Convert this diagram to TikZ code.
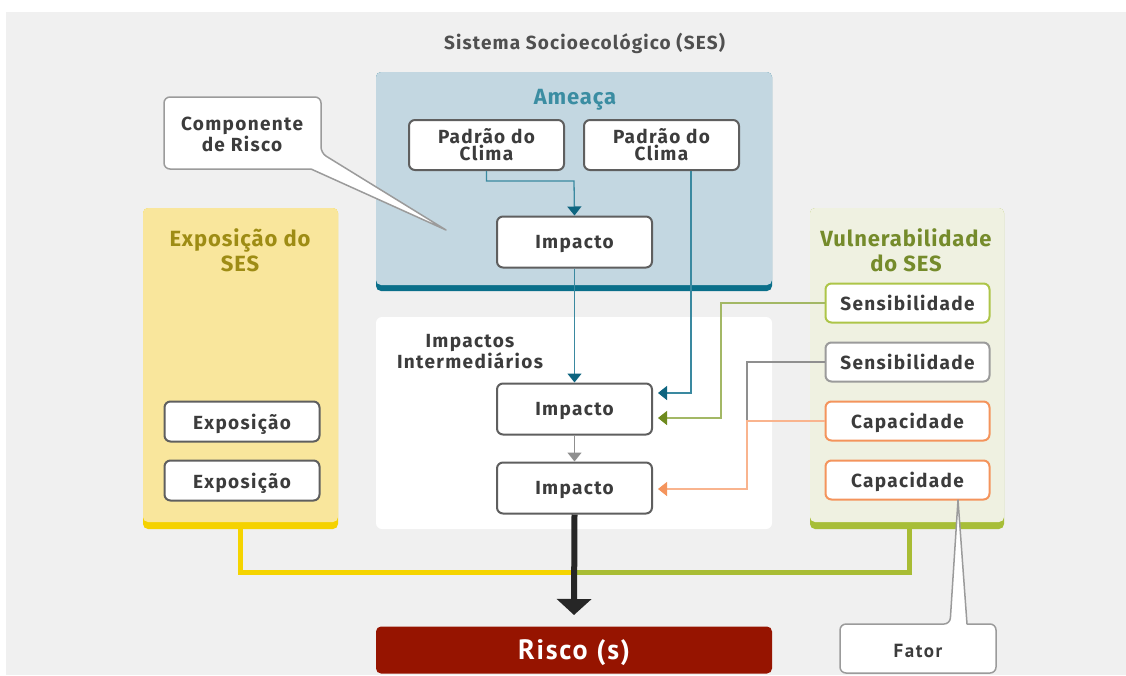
\documentclass[tikz,border=0pt]{standalone}
\usepackage{fontspec}
\setmainfont{Fira Sans}
\newfontfamily\narrowfont{PT Sans}
\usetikzlibrary{arrows.meta}

\definecolor{bgray}{HTML}{F0F0F0}
\definecolor{txt}{HTML}{3C3C3C}
\definecolor{boxline}{HTML}{5F5F5F}
\definecolor{threatfill}{HTML}{C3D7E1}
\definecolor{threatbar}{HTML}{0A6F8A}
\definecolor{threattitle}{HTML}{3B8DA2}
\definecolor{tealline}{HTML}{3A89A0}
\definecolor{tealhead}{HTML}{0E6580}
\definecolor{expfill}{HTML}{F9E69C}
\definecolor{expbar}{HTML}{F5D200}
\definecolor{exptitle}{HTML}{9E8C14}
\definecolor{vulfill}{HTML}{EFF1E1}
\definecolor{vulbar}{HTML}{A7BE38}
\definecolor{vultitle}{HTML}{758B2B}
\definecolor{sensgreen}{HTML}{ADC548}
\definecolor{greenline}{HTML}{A3B865}
\definecolor{greenhead}{HTML}{6E8A1E}
\definecolor{sensgray}{HTML}{9B9B9B}
\definecolor{grayline}{HTML}{8F8F8F}
\definecolor{capor}{HTML}{F4945C}
\definecolor{orline}{HTML}{F9B48E}
\definecolor{riskred}{HTML}{961400}
\definecolor{darkarrow}{HTML}{262626}
\definecolor{ylwline}{HTML}{F5D400}
\definecolor{grnline}{HTML}{A8BC34}

\tikzset{
  x=1pt, y=-1pt,
  boxfont/.style={font=\fontsize{19}{17}\selectfont\bfseries\addfontfeature{LetterSpace=7}},
  boxtext/.style={boxfont, text=txt},
  rbox/.style={draw=#1, line width=2pt, fill=white, rounded corners=6pt,
    minimum width=155pt, minimum height=50pt, inner sep=0pt, boxtext},
  rbox/.default=boxline,
  oneline/.style={text depth=0pt},
  vbox/.style={rbox=#1, oneline, minimum width=164pt, minimum height=39pt},
  ebox/.style={rbox, oneline, minimum width=155pt, minimum height=40pt},
  paneltitle/.style={font=\fontsize{22}{25}\selectfont\bfseries\addfontfeature{LetterSpace=4}, align=center},
  % line colour #1, arrow head colour #2
  flow/.style 2 args={line width=1.3pt, draw=#1, -{Triangle[width=14pt,length=9pt,color=#2]}},
  callout/.style={draw=sensgray, line width=1.5pt, fill=white, line join=round},
}

\begin{document}
\begin{tikzpicture}
\useasboundingbox (0,0) rectangle (1126,675);
\fill[white] (0,0) rectangle (1126,675);
\fill[bgray] (6,12) rectangle (1126,675);

% title
\node[font=\fontsize{19}{19}\selectfont\bfseries\addfontfeature{LetterSpace=6}, text=txt!90] (title) at (584.5,43) {Sistema Socioecológico (SES)};

% threat panel
\fill[threatbar, rounded corners=5pt] (376,72) rectangle (772,291);
\fill[threatfill, rounded corners=5pt] (376,72) rectangle (772,285);
\node[paneltitle, text=threattitle, text depth=0pt] (threat) at (575,97) {Ameaça};

% intermediate impacts panel
\fill[white, rounded corners=6pt] (376,317) rectangle (772,529);
\node[boxtext, align=center, font=\fontsize{19}{21}\selectfont\bfseries\addfontfeature{LetterSpace=7}] (inter) at (470,352) {Impactos\\Intermediários};

% exposure panel
\fill[expbar, rounded corners=5pt] (143,208) rectangle (338,529);
\fill[expfill, rounded corners=5pt] (143,208) rectangle (338,522);
\node[paneltitle, text=exptitle] (exp) at (240,250) {Exposição do\\SES};

% vulnerability panel
\fill[vulbar, rounded corners=5pt] (810,208) rectangle (1004,529);
\fill[vulfill, rounded corners=5pt] (810,208) rectangle (1004,522);
\node[paneltitle, text=vultitle] (vul) at (906,250) {Vulnerabilidade\\do SES};

% boxes
\node[rbox, align=center] (p1) at (486.5,145) {Padrão do\\Clima};
\node[rbox, align=center] (p2) at (661.5,145) {Padrão do\\Clima};
\node[rbox, oneline, minimum height=51pt] (imp1) at (574.5,242) {Impacto};
\node[rbox, oneline, minimum height=51pt] (imp2) at (574.5,409) {Impacto};
\node[rbox, oneline, minimum height=51pt] (imp3) at (574.5,488) {Impacto};

\node[ebox] (e1) at (242,421.5) {Exposição};
\node[ebox] (e2) at (242,480.5) {Exposição};

\node[vbox=sensgreen] (s1) at (907.5,303) {Sensibilidade};
\node[vbox=sensgray] (s2) at (907.5,362) {Sensibilidade};
\node[vbox=capor] (c1) at (907.5,421) {Capacidade};
\node[vbox=capor] (c2) at (907.5,480) {Capacidade};

% risk box
\node[fill=riskred, rounded corners=5pt, minimum width=396pt, minimum height=47pt, inner sep=0pt, text depth=0pt,
      text=white, font=\narrowfont\fontsize{28}{28}\selectfont\bfseries\addfontfeature{LetterSpace=6}] (risk) at (574,650) {Risco (s)};

% junction coordinates
\coordinate (j1) at (574,181);
\coordinate (p2b) at (691,171);
\coordinate (t1) at (658,393);
\coordinate (g1) at (721,418);
\coordinate (t2) at (658,418);
\coordinate (o1) at (747,489);
\coordinate (t3) at (658,489);
\coordinate (k1) at (747,421);
\coordinate (riskin) at (574,615);
\coordinate (ybot) at (240,529);
\coordinate (gbot) at (909,529);
\coordinate (merge) at (574,572);

% threat flows
\draw[flow={tealline}{tealhead}] (p1.south) |- (j1) -- (imp1.north);
\draw[flow={tealline}{tealhead}] (imp1.south) -- (imp2.north);
\draw[flow={tealline}{tealhead}] (p2b) |- (t1);

% vulnerability flows
\draw[flow={greenline}{greenhead}] (s1.west) -| (g1) -- (t2);
\draw[line width=1.3pt, draw=grayline] (s2.west) -| (k1);
\draw[flow={orline}{capor}] (c1.west) -| (o1) -- (t3);
\draw[flow={grayline}{grayline}] (imp2.south) -- (imp3.north);

% exposure and vulnerability into risk
\draw[line width=5pt, draw=ylwline] (ybot) |- (merge);
\draw[line width=5pt, draw=grnline] (gbot) |- (merge);
\draw[line width=6pt, draw=darkarrow, -{Triangle[width=34pt,length=16pt]}] (imp3.south) -- (riskin);

% callout: risk component
\draw[callout] [rounded corners=6pt] (164,97) -- (321,97) -- (321,153) [sharp corners] -- (446,230) -- (311,169) [rounded corners=6pt] -- (164,169) -- cycle;
\node[boxtext, align=center, font=\fontsize{19}{21}\selectfont\bfseries\addfontfeature{LetterSpace=7}] (comp) at (242,134) {Componente\\de Risco};

% callout: factor
\draw[callout] [rounded corners=6pt] (840,624) -- (950,624) [sharp corners] -- (958,500) -- (967,624) [rounded corners=6pt] -- (996,624) -- (996,673) -- (840,673) -- cycle;
\node[text=txt, text depth=0pt, font=\narrowfont\fontsize{19}{19}\selectfont\bfseries\addfontfeature{LetterSpace=8}] (fator) at (918,651) {Fator};
\end{tikzpicture}
\end{document}
